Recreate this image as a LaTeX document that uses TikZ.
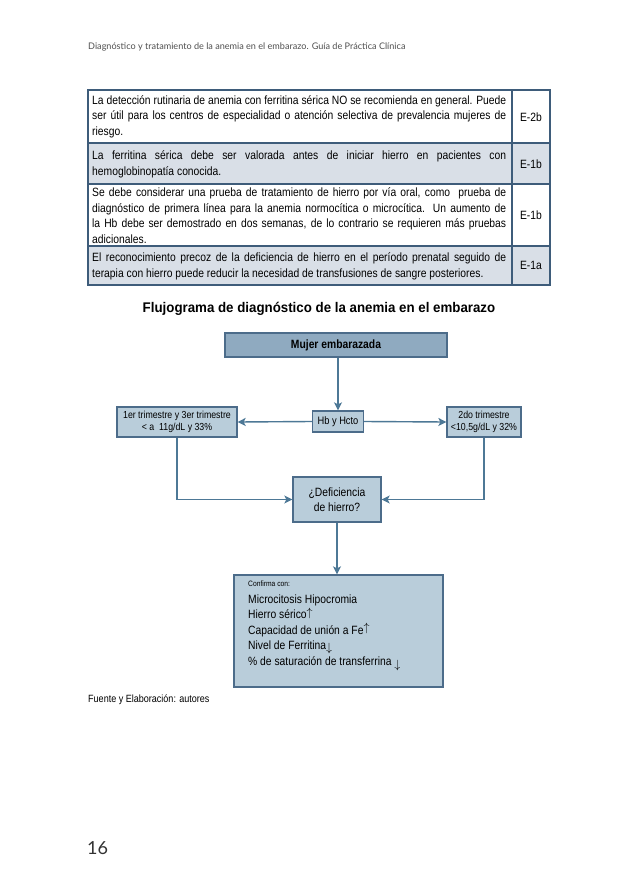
\documentclass[tikz,border=0pt]{standalone}
\usepackage{fontspec}
\usepackage{amsmath}
\usetikzlibrary{arrows.meta}
\setmainfont{Liberation Sans}
\newfontfamily\narrowfont[FakeStretch=0.86]{Liberation Sans}
\newfontfamily\titlefont[FakeStretch=0.95]{Liberation Sans}
\newfontfamily\headfont{Lato}
\newcommand{\cellfont}{\narrowfont\fontsize{12}{15.5}\selectfont\lineskiplimit=-20pt\relax}
\definecolor{tabline}{HTML}{3E5C7A}
\definecolor{rowshade}{HTML}{D9DFE7}
\definecolor{topfill}{HTML}{8FAAC0}
\definecolor{boxfill}{HTML}{B9CDDA}
\definecolor{boxline}{HTML}{4C6C8A}
\definecolor{linkblue}{HTML}{4D7896}
\definecolor{headgray}{HTML}{505050}

\begin{document}
\begin{tikzpicture}[x=1pt,y=-1pt]
  \tikzstyle{every node}+=[inner sep=0pt]
  \tikzstyle{celltext}=[anchor=west,text width=414pt,align=justify,font=\cellfont]
  \tikzstyle{celltag}=[font=\narrowfont\fontsize{12}{13}\selectfont]
  \tikzstyle{flowbox}=[draw=boxline,fill=boxfill,line width=1.3pt,align=center,font=\narrowfont\fontsize{10.2}{12.5}\selectfont]
  \tikzstyle{link}=[draw=linkblue,line width=1.4pt,-{Stealth[length=8pt,width=8pt,inset=2pt]}]
  \useasboundingbox (0,0) rectangle (638,880);
  \fill[white] (0,0) rectangle (638,880);
  \node[anchor=west,font=\headfont\fontsize{9.1}{11}\selectfont,text=headgray] (head) at (88,47) {Diagnóstico y tratamiento de la anemia en el embarazo. Guía de Práctica Clínica};
  \fill[rowshade] (88,143) rectangle (550,184);
  \fill[rowshade] (88,246) rectangle (550,285);
  \draw[tabline,line width=1.2pt] (88,90) rectangle (550,285);
  \draw[tabline,line width=1.2pt] (512,90) -- (512,285);
  \foreach \y in {143,184,246}
    \draw[tabline,line width=1.2pt] (88,\y) -- (550,\y);
  \node[celltext] (rowa) at (92,116.5) {La detección rutinaria de anemia con ferritina sérica NO se recomienda en general. Puede\linebreak ser útil para los centros de especialidad o atención selectiva de prevalencia mujeres de\linebreak riesgo.};
  \node[celltag] (taga) at (531,117) {E-2b};
  \node[celltext] (rowb) at (92,164.5) {La ferritina sérica debe ser valorada antes de iniciar hierro en pacientes con\linebreak hemoglobinopatía conocida.};
  \node[celltag] (tagb) at (531,164) {E-1b};
  \node[celltext] (rowc) at (92,215.5) {Se debe considerar una prueba de tratamiento de hierro por vía oral, como~ prueba de\linebreak diagnóstico de primera línea para la anemia normocítica o microcítica. Un aumento de\linebreak la Hb debe ser demostrado en dos semanas, de lo contrario se requieren más pruebas\linebreak adicionales.};
  \node[celltag] (tagc) at (531,215) {E-1b};
  \node[celltext] (rowd) at (92,266.5) {El reconocimiento precoz de la deficiencia de hierro en el período prenatal seguido de\linebreak terapia con hierro puede reducir la necesidad de transfusiones de sangre posteriores.};
  \node[celltag] (tagd) at (531,265.5) {E-1a};
  \node[font=\titlefont\bfseries\fontsize{14}{16}\selectfont] (titulo) at (319,309) {Flujograma de diagnóstico de la anemia en el embarazo};
  \node[flowbox,fill=topfill,minimum width=222pt,minimum height=24pt,font=\narrowfont\bfseries\fontsize{12}{13}\selectfont] (mujer) at (336,345) {Mujer embarazada};
  \node[flowbox,minimum width=51pt,minimum height=21pt,font=\narrowfont\fontsize{10.8}{12}\selectfont] (hb) at (338,421.5) {Hb y Hcto};
  \node[flowbox,minimum width=120pt,minimum height=30pt] (trimA) at (177,422) {1er trimestre y 3er trimestre\\< a~~11g/dL y 33\%};
  \node[flowbox,minimum width=74pt,minimum height=30pt] (trimB) at (484,422) {2do trimestre\\<10,5g/dL y 32\%};
  \node[flowbox,minimum width=88pt,minimum height=45pt,font=\narrowfont\fontsize{12}{15}\selectfont] (defic) at (337,499.5) {¿Deficiencia\\de hierro?};
  \node[flowbox,minimum width=209pt,minimum height=112pt] (confirma) at (338.5,631) {};
  \node[anchor=north west,align=left,font=\narrowfont\fontsize{12}{15.5}\selectfont] (lista) at (248,580.5) {{\fontsize{7.8}{9}\selectfont Confirma con:}\\[1.5pt]
    Microcitosis Hipocromia\\
    Hierro sérico\raisebox{2.5pt}{$\uparrow$}\\
    Capacidad de unión a Fe\raisebox{2.5pt}{$\uparrow$}\\
    Nivel de Ferritina\raisebox{-2pt}{$\downarrow$}\\
    \% de saturación de transferrina \raisebox{-3pt}{$\downarrow$}};
  \draw[link] (hb.north |- mujer.south) -- (hb.north);
  \draw[link] (hb.west) -- (trimA.east);
  \draw[link] (hb.east) -- (trimB.west);
  \draw[link] (trimA.south) |- (defic.west);
  \draw[link] (trimB.south) |- (defic.east);
  \draw[link] (defic.south) -- (defic.south |- confirma.north);
  \node[anchor=west,font=\narrowfont\fontsize{10.5}{12}\selectfont] (fuente) at (88,700) {Fuente y Elaboración: autores};
  \node[anchor=west,font=\headfont\fontsize{18}{20}\selectfont,text=black!80] (pagina) at (87,848) {16};
\end{tikzpicture}
\end{document}
